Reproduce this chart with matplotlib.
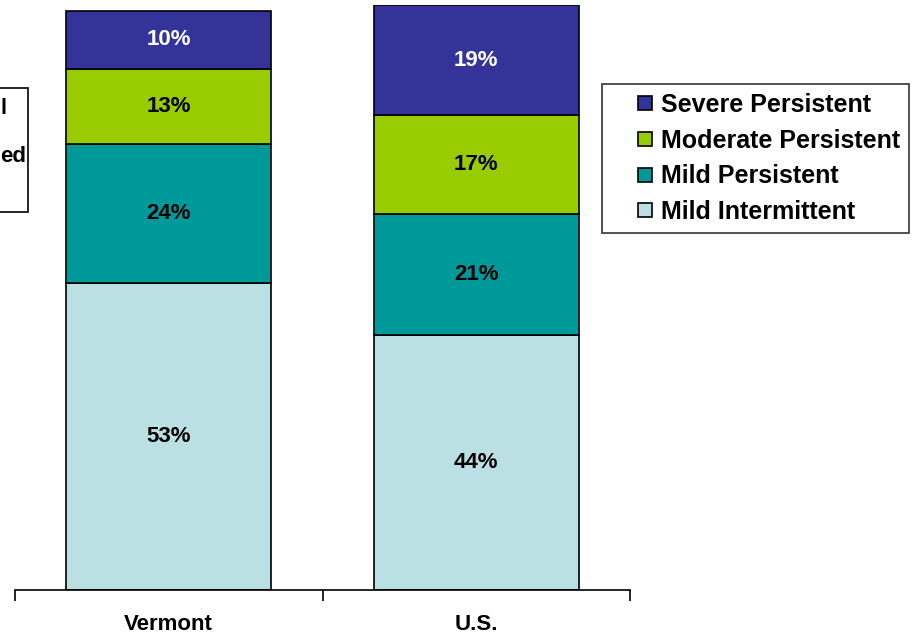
import matplotlib.pyplot as plt
from matplotlib.lines import Line2D
from matplotlib.patches import Rectangle

plt.rcParams['font.family'] = ['Liberation Sans', 'DejaVu Sans']
plt.rcParams['font.weight'] = 'bold'

regions = ['Vermont', 'U.S.']
severity = ['Mild Intermittent', 'Mild Persistent', 'Moderate Persistent', 'Severe Persistent']
shares = {
    'Mild Intermittent': [53, 44],
    'Mild Persistent': [24, 21],
    'Moderate Persistent': [13, 17],
    'Severe Persistent': [10, 19],
}
colors = {
    'Mild Intermittent': '#BBE0E3',
    'Mild Persistent': '#009999',
    'Moderate Persistent': '#99CC00',
    'Severe Persistent': '#333399',
}

fig = plt.figure(figsize=(9.15, 6.34), dpi=100)
ax = fig.add_axes([15 / 915, 44 / 634, 615 / 915, 585 / 634])

x = range(len(regions))
bottom = [0] * len(regions)
for s in severity:
    vals = shares[s]
    ax.bar(x, vals, width=0.667, bottom=bottom, color=colors[s],
           edgecolor='black', linewidth=1.2, label=s)
    txt_color = 'white' if s == 'Severe Persistent' else 'black'
    for xi, v, b in zip(x, vals, bottom):
        ax.text(xi, b + v / 2, f'{v}%', ha='center', va='center',
                fontsize=16, fontweight='bold', color=txt_color)
    bottom = [b + v for b, v in zip(bottom, vals)]

ax.set_xlim(-0.5, 1.5)
ax.set_ylim(0, 101)
for side in ['left', 'right', 'top']:
    ax.spines[side].set_visible(False)
ax.spines['bottom'].set_linewidth(1.2)
ax.set_yticks([])
ax.set_xticks(list(x))
ax.set_xticklabels(regions, fontsize=16, fontweight='bold')
ax.tick_params(axis='x', which='major', length=0, pad=17)
ax.set_xticks([-0.5, 0.5, 1.5], minor=True)
ax.tick_params(axis='x', which='minor', length=8, width=1.2, direction='out')

# square markers, top entry = top segment
handles = [Line2D([], [], linestyle='none', marker='s', markersize=10.5,
                  markerfacecolor=colors[s], markeredgecolor='black',
                  markeredgewidth=1.2) for s in severity[::-1]]
leg = fig.legend(handles, severity[::-1], loc='upper left',
                 bbox_to_anchor=(602 / 915, 1 - 84 / 634),
                 prop={'size': 18, 'weight': 'bold'}, frameon=True,
                 fancybox=False, edgecolor='black', handlelength=2.7,
                 handletextpad=-0.7, labelspacing=0.47,
                 borderpad=0.35, borderaxespad=0)
leg.get_frame().set_linewidth(1.2)

# side box cut off at the left edge
fig.patches.append(Rectangle((-0.05, 1 - 212 / 634), 0.05 + 28 / 915, 124 / 634,
                             transform=fig.transFigure, fill=False,
                             edgecolor='black', linewidth=1.2))
fig.text(0.5 / 915, 1 - 108 / 634, 'l', ha='left', va='center', fontsize=16, fontweight='bold')
fig.text(0.5 / 915, 1 - 156 / 634, 'ed', ha='left', va='center', fontsize=16, fontweight='bold')

fig.savefig('out.png', dpi=100)
